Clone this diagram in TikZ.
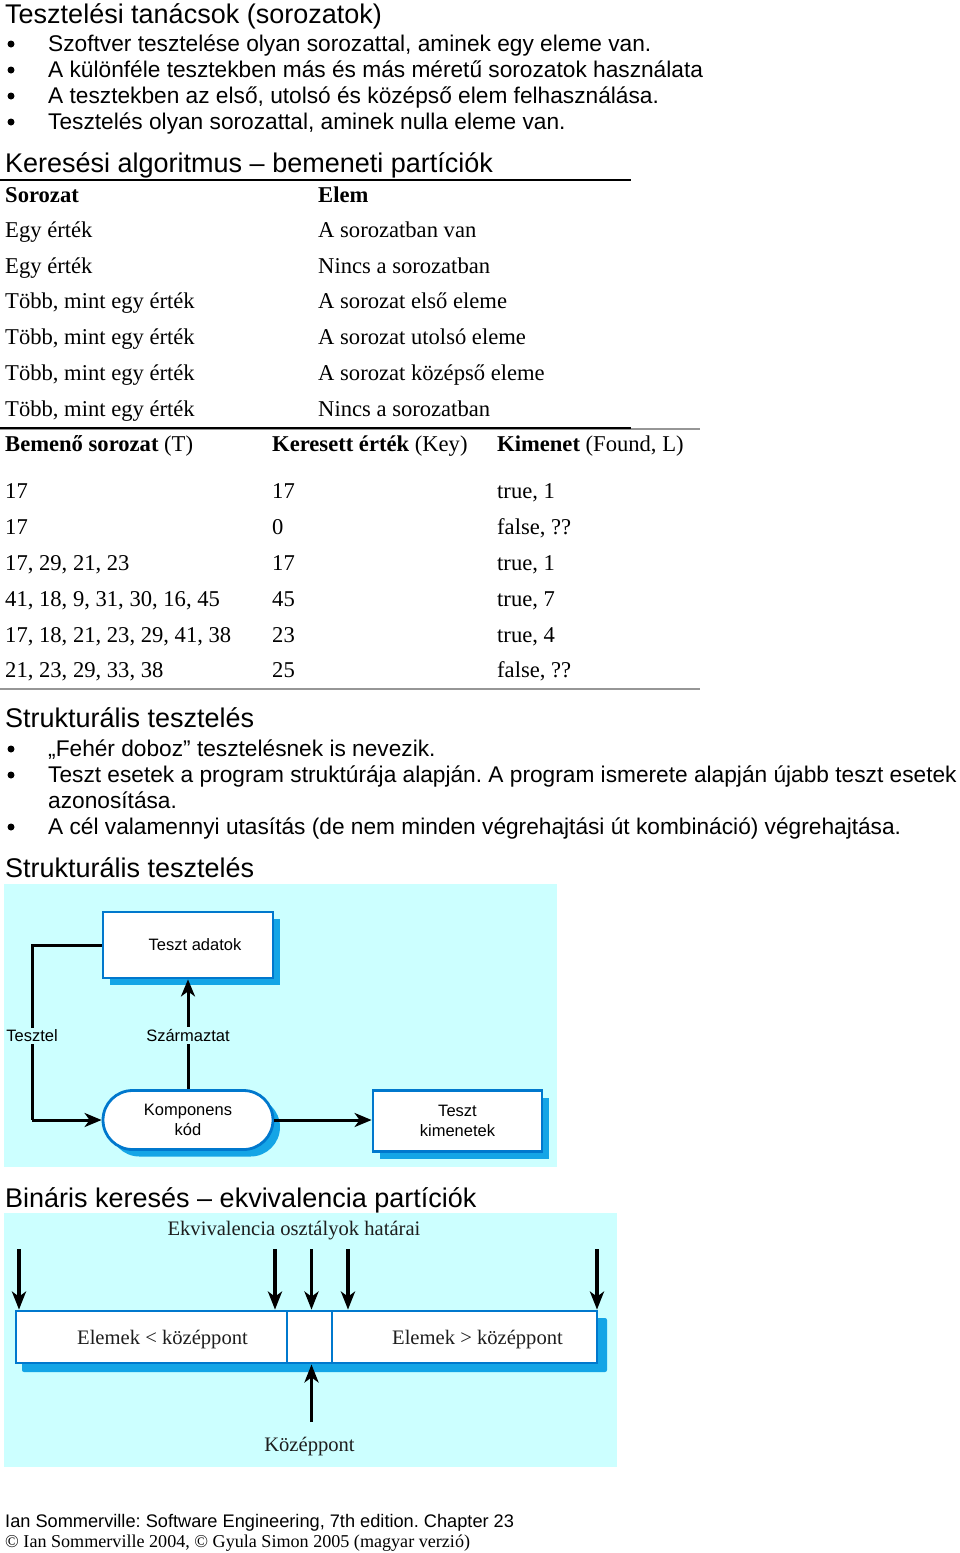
\documentclass[tikz,border=0pt]{standalone}
\usepackage{fontspec}
\setmainfont{Liberation Serif}
\setsansfont{Liberation Sans}
\usetikzlibrary{arrows.meta,shadows}
\definecolor{bgc}{RGB}{204,255,255}
\definecolor{bord}{RGB}{0,120,205}
\definecolor{shad}{RGB}{20,165,230}
\definecolor{rulegray}{RGB}{150,150,150}
\definecolor{dtext}{RGB}{30,30,30}
\tikzset{
  head/.style={anchor=base west, inner sep=0, font=\sffamily\fontsize{27}{30}\selectfont},
  btxt/.style={anchor=base west, inner sep=0, font=\sffamily\fontsize{22.7}{26}\selectfont},
  ttxt/.style={anchor=base west, inner sep=0, font=\rmfamily\fontsize{22.6}{26}\selectfont},
  bul/.style={circle, fill=black, inner sep=0, minimum size=7pt},
  dbox/.style={draw=bord, line width=2.8pt, fill=white, inner sep=0,
    font=\sffamily\fontsize{16.5}{19.5}\selectfont, align=center,
    drop shadow={shadow xshift=7pt, shadow yshift=-7pt, fill=shad, opacity=1}},
  dlabel/.style={fill=bgc, inner sep=2pt, font=\sffamily\fontsize{16.5}{19}\selectfont},
  darrow/.style={line width=3pt, -{Stealth[length=17pt,width=14pt,inset=5pt]}},
  dline/.style={line width=3pt},
  cell/.style={draw=bord, line width=2.8pt, fill=white, inner sep=0, minimum height=52pt},
  ctext/.style={anchor=base, inner sep=0, text=dtext, font=\rmfamily\fontsize{20.6}{24}\selectfont},
  barrow/.style={line width=3.5pt, -{Stealth[length=18pt,width=14pt,inset=5pt]}},
}
\begin{document}
\frenchspacing
\begin{tikzpicture}[x=1pt,y=-1pt]
\useasboundingbox (0,0) rectangle (960,1553);
\fill[white] (0,0) rectangle (960,1553);

% --- Section 1
\node[head] (h1) at (5,23) {Tesztelési tanácsok (sorozatok)};
\node[bul] (b1) at (11,44) {};
\node[bul] (b2) at (11,70) {};
\node[bul] (b3) at (11,96) {};
\node[bul] (b4) at (11,122) {};
\node[btxt] (t1) at (48,51) {Szoftver tesztelése olyan sorozattal, aminek egy eleme van.};
\node[btxt] (t2) at (48,77) {A különféle tesztekben más és más méretű sorozatok használata};
\node[btxt] (t3) at (48,103) {A tesztekben az első, utolsó és középső elem felhasználása.};
\node[btxt] (t4) at (48,129) {Tesztelés olyan sorozattal, aminek nulla eleme van.};

% --- Section 2
\node[head] (h2) at (5,172) {Keresési algoritmus – bemeneti partíciók};
\draw[line width=2pt] (0,180) -- (631,180);
\node[ttxt] (s0) at (5,202) {\textbf{Sorozat}};
\node[ttxt] (e0) at (318,202) {\textbf{Elem}};
\node[ttxt] (s1) at (5,237) {Egy érték};
\node[ttxt] (e1) at (318,237) {A sorozatban van};
\node[ttxt] (s2) at (5,273) {Egy érték};
\node[ttxt] (e2) at (318,273) {Nincs a sorozatban};
\node[ttxt] (s3) at (5,308) {Több, mint egy érték};
\node[ttxt] (e3) at (318,308) {A sorozat első eleme};
\node[ttxt] (s4) at (5,344) {Több, mint egy érték};
\node[ttxt] (e4) at (318,344) {A sorozat utolsó eleme};
\node[ttxt] (s5) at (5,380) {Több, mint egy érték};
\node[ttxt] (e5) at (318,380) {A sorozat középső eleme};
\node[ttxt] (s6) at (5,416) {Több, mint egy érték};
\node[ttxt] (e6) at (318,416) {Nincs a sorozatban};
\draw[rulegray, line width=1.5pt] (0,429) -- (700,429);
\draw[line width=2.2pt] (0,428) -- (631,428);

\node[ttxt] (k0a) at (5,451) {\textbf{Bemenő sorozat} (T)};
\node[ttxt] (k0b) at (272,451) {\textbf{Keresett érték} (Key)};
\node[ttxt] (k0c) at (497,451) {\textbf{Kimenet} (Found, L)};
\node[ttxt] (k1a) at (5,498) {17};
\node[ttxt] (k1b) at (272,498) {17};
\node[ttxt] (k1c) at (497,498) {true, 1};
\node[ttxt] (k2a) at (5,534) {17};
\node[ttxt] (k2b) at (272,534) {0};
\node[ttxt] (k2c) at (497,534) {false, ??};
\node[ttxt] (k3a) at (5,570) {17, 29, 21, 23};
\node[ttxt] (k3b) at (272,570) {17};
\node[ttxt] (k3c) at (497,570) {true, 1};
\node[ttxt] (k4a) at (5,606) {41, 18, 9, 31, 30, 16, 45};
\node[ttxt] (k4b) at (272,606) {45};
\node[ttxt] (k4c) at (497,606) {true, 7};
\node[ttxt] (k5a) at (5,642) {17, 18, 21, 23, 29, 41, 38};
\node[ttxt] (k5b) at (272,642) {23};
\node[ttxt] (k5c) at (497,642) {true, 4};
\node[ttxt] (k6a) at (5,677) {21, 23, 29, 33, 38};
\node[ttxt] (k6b) at (272,677) {25};
\node[ttxt] (k6c) at (497,677) {false, ??};
\draw[rulegray, line width=1.5pt] (0,689) -- (700,689);

% --- Section 3
\node[head] (h3) at (5,727) {Strukturális tesztelés};
\node[bul] (c1) at (11,749) {};
\node[bul] (c2) at (11,775) {};
\node[bul] (c3) at (11,827) {};
\node[btxt] (u1) at (48,756) {„Fehér doboz” tesztelésnek is nevezik.};
\node[btxt] (u2) at (48,782) {Teszt esetek a program struktúrája alapján. A program ismerete alapján újabb teszt esetek};
\node[btxt] (u2b) at (48,808) {azonosítása.};
\node[btxt] (u3) at (48,834) {A cél valamennyi utasítás (de nem minden végrehajtási út kombináció) végrehajtása.};

% --- Section 4 diagram
\node[head] (h4) at (5,877) {Strukturális tesztelés};
\fill[bgc] (4,884) rectangle (557,1167);
\node[dbox, minimum width=170pt, minimum height=66pt] (TA) at (188,945) {\hspace{14pt}Teszt adatok};
\node[dbox, minimum width=170pt, minimum height=59pt, rounded corners=29.5pt] (KK) at (188,1120) {Komponens\\kód};
\node[dbox, minimum width=169pt, minimum height=61pt] (TK) at (457.5,1121) {Teszt\\kimenetek};
\coordinate (tc1) at (32,945);
\coordinate (tc2) at (32,1120);
\draw[dline] (TA.west) -- (tc1) -- node[dlabel, pos=0.52] (ltesztel) {Tesztel} (tc2);
\draw[darrow] (tc2) -- (KK.west);
\draw[darrow] (KK.north) -- node[dlabel, pos=0.49] (lszarm) {Származtat} (TA.south);
\draw[darrow] (KK.east) -- (KK.east -| TK.west);

% --- Section 5 diagram
\node[head] (h5) at (5,1207) {Bináris keresés – ekvivalencia partíciók};
\fill[bgc] (4,1213) rectangle (617,1467);
\fill[shad, rounded corners=2pt] (22,1318) rectangle (607,1372);
\node[cell, minimum width=271pt] (L) at (151.5,1337) {};
\node[cell, minimum width=45pt] (M) at (309.5,1337) {};
\node[cell, minimum width=265pt] (R) at (464.5,1337) {};
\node[ctext] (Lt) at (162.5,1344) {Elemek < középpont};
\node[ctext] (Rt) at (477.5,1344) {Elemek > középpont};
\node[ctext] (ekv) at (294,1235) {Ekvivalencia osztályok határai};
\node[ctext] (kp) at (309.5,1451) {Középpont};
\coordinate (a1) at (19,1249);
\coordinate (a2) at (275,1249);
\coordinate (a3) at (311.5,1249);
\coordinate (a4) at (348,1249);
\coordinate (a5) at (597,1249);
\coordinate (m1) at (311.5,1422);
\draw[barrow] (a1) -- (a1 |- L.north);
\draw[barrow] (a2) -- (a2 |- L.north);
\draw[barrow] (a3) -- (a3 |- M.north);
\draw[barrow] (a4) -- (a4 |- R.north);
\draw[barrow] (a5) -- (a5 |- R.north);
\draw[barrow] (m1) -- (m1 |- M.south);

% --- Footer
\node[anchor=base west, inner sep=0, font=\sffamily\fontsize{18.2}{21}\selectfont] (f1) at (5,1527) {Ian Sommerville: Software Engineering, 7th edition. Chapter 23};
\node[anchor=base west, inner sep=0, font=\rmfamily\fontsize{18.1}{21}\selectfont] (f2) at (5,1547) {© Ian Sommerville 2004, © Gyula Simon 2005 (magyar verzió)};
\end{tikzpicture}
\end{document}
